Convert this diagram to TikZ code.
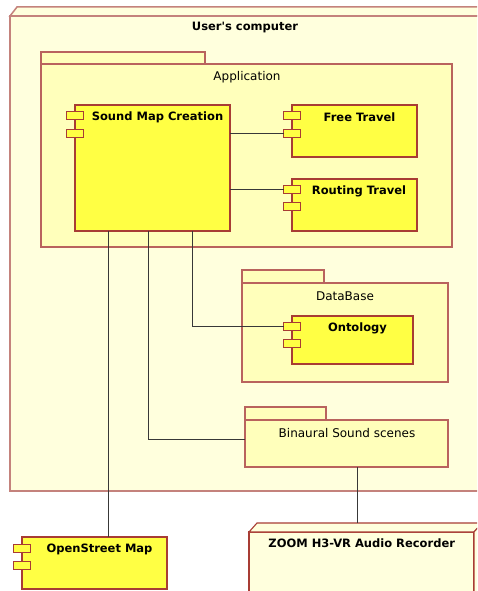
\documentclass[tikz,border=0pt]{standalone}
\usepackage{fontspec}
\setmainfont{DejaVu Sans}
\definecolor{bgyel}{HTML}{FFFFDD}
\definecolor{pkgyel}{HTML}{FFFFBB}
\definecolor{compyel}{HTML}{FFFF44}
\definecolor{bord}{HTML}{A83C34}
\definecolor{devbord}{HTML}{C4827C}
\definecolor{wire}{HTML}{383838}
\begin{document}
\begin{tikzpicture}[x=1pt,y=-1pt,
  every node/.style={inner sep=0pt, outer sep=0pt},
  devbox/.style={draw=devbord, line width=1.5pt, fill=bgyel, anchor=north west},
  zoombox/.style={draw=bord, line width=1.1pt, fill=bgyel, anchor=north west},
  pkg/.style={draw=bord!80!white, line width=1.2pt, fill=pkgyel, anchor=north west},
  comp/.style={draw=bord, line width=1.2pt, fill=compyel, anchor=north west},
  port/.style={draw=bord, line width=1pt, fill=compyel, minimum width=17pt, minimum height=8pt},
  wirel/.style={draw=wire, line width=0.8pt},
  lbl/.style={font=\fontsize{12}{14}\selectfont},
  blbl/.style={font=\fontsize{11.5}{14}\selectfont\bfseries}
]
\clip (0,0) rectangle (477,591);
\useasboundingbox (0,0) rectangle (477,591);

% User's computer device
\node[devbox, minimum width=490pt, minimum height=475pt] (uc) at (10,16) {};
\draw[devbord, line width=1.5pt, fill=bgyel] (uc.north west) -- ++(7,-9) -- ++(490,0) -- (uc.north east) -- cycle;
\node[blbl] (uct) at (245,28) {User\textquotesingle s computer};

% Application package
\node[pkg, minimum width=164pt, minimum height=12pt] (apptab) at (41,52) {};
\node[pkg, minimum width=411pt, minimum height=183pt] (app) at (41,64) {};
\node[lbl] (appt) at (247,77.5) {Application};

% DataBase package
\node[pkg, minimum width=82pt, minimum height=13pt] (dbtab) at (242,270) {};
\node[pkg, minimum width=206pt, minimum height=99pt] (db) at (242,283) {};
\node[lbl] (dbt) at (345,296) {DataBase};

% Binaural package
\node[pkg, minimum width=81pt, minimum height=13pt] (bintab) at (245,407) {};
\node[pkg, minimum width=203pt, minimum height=47pt] (bin) at (245,420) {};
\node[lbl] (bint) at (347,433.5) {Binaural Sound scenes};

% Components
\node[comp, minimum width=155pt, minimum height=126pt] (smc) at (75,105) {};
\node[port] (smcp1) at (74.5,115.5) {};
\node[port] (smcp2) at (74.5,133) {};
\node[blbl] (smct) at (157.5,117.5) {Sound Map Creation};

\node[comp, minimum width=125pt, minimum height=52pt] (ft) at (292,105) {};
\node[port] (ftp1) at (292,115.3) {};
\node[port] (ftp2) at (292,133) {};
\node[blbl] (ftt) at (359.5,117) {Free Travel};

\node[comp, minimum width=125pt, minimum height=52pt] (rt) at (292,179) {};
\node[port] (rtp1) at (292,189.3) {};
\node[port] (rtp2) at (292,206.7) {};
\node[blbl] (rtt) at (359,191) {Routing Travel};

\node[comp, minimum width=121pt, minimum height=48pt] (ont) at (292,316) {};
\node[port] (ontp1) at (292,326) {};
\node[port] (ontp2) at (292,343.5) {};
\node[blbl] (ontt) at (357.5,328.5) {Ontology};

\node[comp, minimum width=145pt, minimum height=52pt] (osm) at (22,537) {};
\node[port] (osmp1) at (22,548) {};
\node[port] (osmp2) at (22,565) {};
\node[blbl] (osmt) at (99.5,549.5) {OpenStreet Map};

% ZOOM device
\node[zoombox, minimum width=225pt, minimum height=80pt] (zoom) at (249,532) {};
\draw[bord, line width=1.1pt, fill=bgyel] (zoom.north west) -- ++(8,-9) -- ++(225,0) -- (zoom.north east) -- cycle;
\draw[bord, line width=1.1pt, fill=bgyel] (zoom.north east) -- ++(8,-9) -- ++(0,90) -- ++(-8,9) -- cycle;
\node[blbl] (zoomt) at (361.7,543.5) {ZOOM H3-VR Audio Recorder};

% Connectors
\coordinate (c1) at (108.3,0);
\coordinate (c2) at (148.7,439);
\coordinate (c3) at (192.7,326);
\coordinate (c4) at (357.7,0);
\coordinate (ztop) at (357.7,523);
\draw[wirel] (smc.east |- ftp2) -- (ftp2.west);
\draw[wirel] (smc.east |- rtp1) -- (rtp1.west);
\draw[wirel] (smc.south -| c1) -- (osm.north -| c1);
\draw[wirel] (smc.south -| c2) -- (c2) -- (bin.west |- c2);
\draw[wirel] (smc.south -| c3) -- (c3) -- (ontp1.west);
\draw[wirel] (bin.south -| c4) -- (ztop);
\end{tikzpicture}
\end{document}
